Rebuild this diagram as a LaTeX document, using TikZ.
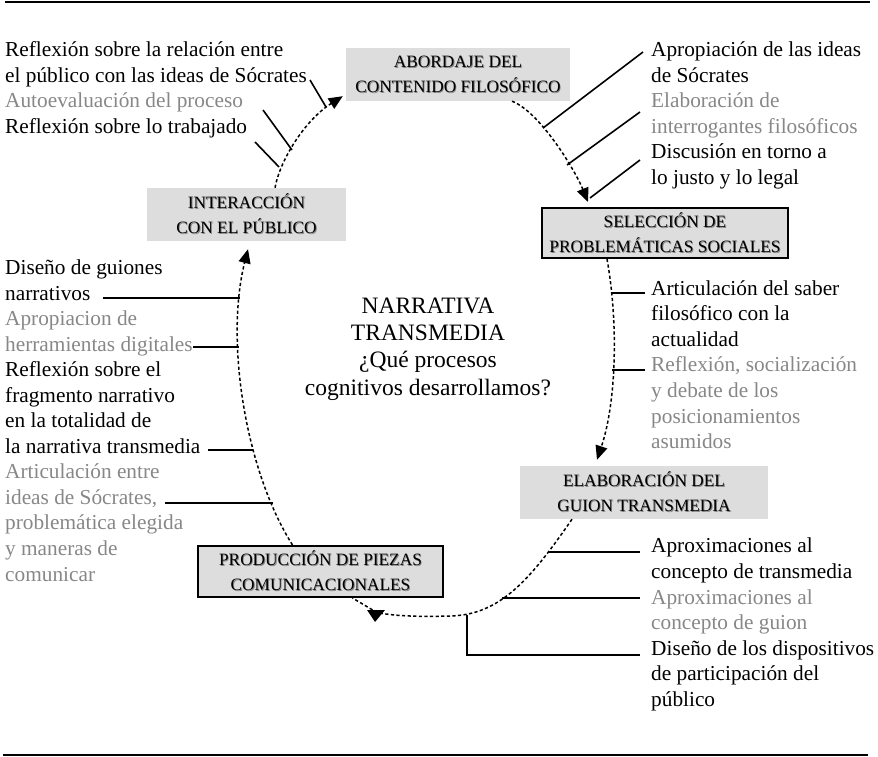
\documentclass[tikz,border=0pt]{standalone}
\usepackage{fontspec}
\setmainfont{Liberation Serif}
\usetikzlibrary{arrows.meta}
\definecolor{txtgray}{RGB}{135,135,135}
\definecolor{boxgray}{RGB}{221,221,221}
\newcommand\shd[1]{\makebox[0pt][l]{\hspace{0.9pt}\raisebox{-0.9pt}{\textcolor{black!50}{#1}}}#1}
\newcommand\gr[1]{\textcolor{txtgray}{#1}}
\begin{document}
\begin{tikzpicture}[x=1pt,y=-1pt,
  stage/.style={fill=boxgray, inner sep=0pt, align=center, font=\fontsize{17.3}{25}\selectfont, text=black},
  framed/.style={stage, draw=black, line width=2pt},
  txt/.style={anchor=north west, inner sep=0pt, align=left, font=\fontsize{21.3}{25.6}\selectfont},
  flow/.style={line width=1.5pt, dash pattern=on 3.2pt off 2.4pt},
  tip/.style={-{Triangle[length=14pt,width=12pt]}},
  lead/.style={line width=1.6pt},
]
\useasboundingbox (0,0) rectangle (878,757);
% rules
\draw[line width=2.5pt] (5,2) -- (870,2);
\draw[line width=2.5pt] (3,755) -- (868,755);

% stages
\node[stage, minimum width=224pt, minimum height=53pt] (abord) at (458,74.5) {\shd{ABORDAJE DEL}\\\shd{CONTENIDO FILOSÓFICO}};
\node[framed, minimum width=246pt, minimum height=50pt] (selec) at (665,233) {\shd{SELECCIÓN DE}\\\shd{PROBLEMÁTICAS SOCIALES}};
\node[stage, minimum width=199pt, minimum height=53pt] (inter) at (246.5,214.5) {\shd{INTERACCIÓN}\\\shd{CON EL PÚBLICO}};
\node[stage, minimum width=248pt, minimum height=53pt] (elab) at (644,492.5) {\shd{ELABORACIÓN DEL}\\\shd{GUION TRANSMEDIA}};
\node[framed, minimum width=245pt, minimum height=51pt] (prod) at (320.5,571.5) {\shd{PRODUCCIÓN DE PIEZAS}\\\shd{COMUNICACIONALES}};

% centre
\node[inner sep=0pt, align=center, font=\fontsize{23.5}{27.3}\selectfont] (centre) at (428,349) {NARRATIVA\\TRANSMEDIA\\¿Qué procesos\\cognitivos desarrollamos?};

% text blocks
\node[txt] (tl) at (5,41.5) {Reflexión sobre la relación entre\\el público con las ideas de Sócrates\\\gr{Autoevaluación del proceso}\\Reflexión sobre lo trabajado};
\node[txt] (tr) at (651,41.5) {Apropiación de las ideas\\de Sócrates\\\gr{Elaboración de}\\\gr{interrogantes filosóficos}\\Discusión en torno a\\lo justo y lo legal};
\node[txt, font=\fontsize{21.3}{25.55}\selectfont] (lm) at (5,259.5) {Diseño de guiones\\narrativos\\\gr{Apropiacion de}\\\gr{herramientas digitales}\\Reflexión sobre el\\fragmento narrativo\\en la totalidad de\\la narrativa transmedia\\\gr{Articulación entre}\\\gr{ideas de Sócrates,}\\\gr{problemática elegida}\\\gr{y maneras de}\\\gr{comunicar}};
\node[txt] (rm) at (651,280) {Articulación del saber\\filosófico con la\\actualidad\\\gr{Reflexión, socialización}\\\gr{y debate de los}\\\gr{posicionamientos}\\\gr{asumidos}};
\node[txt] (br) at (651,538) {Aproximaciones al\\concepto de transmedia\\\gr{Aproximaciones al}\\\gr{concepto de guion}\\Diseño de los dispositivos\\de participación del\\público};

% cycle
\draw[flow, tip] ([xshift=28.5pt]inter.north) .. controls (280,160) and (305,120) .. ([xshift=-3pt,yshift=5pt]abord.south west);
\draw[flow, tip] ([xshift=54pt]abord.south) .. controls (540,112) and (575,170) .. ([xshift=-77pt,yshift=5pt]selec.north);
\draw[flow, tip] ([xshift=-58pt]selec.south) .. controls (618,320) and (617,400) .. ([xshift=-47pt,yshift=6pt]elab.north);
\draw[flow] ([xshift=-72pt]elab.south) .. controls (530,580) and (500,615) .. (450,616) .. controls (420,617) and (390,616) .. (376,612) -- ([xshift=32pt]prod.south);
\fill (367,610) -- (385,610) -- (375,622) -- cycle;
\draw[flow, tip] ([xshift=-28pt]prod.north) .. controls (245,470) and (225,340) .. ([xshift=1.5pt,yshift=-8pt]inter.south);

% leader coordinates
\coordinate (a1) at (310,80);  \coordinate (b1) at (326,107);
\coordinate (a2) at (263,110); \coordinate (b2) at (292,150);
\coordinate (a3) at (255,142); \coordinate (b3) at (279,167);
\coordinate (c1) at (643,52);  \coordinate (d1) at (543,128);
\coordinate (c2) at (640,112); \coordinate (d2) at (567,165);
\coordinate (c3) at (640,160); \coordinate (d3) at (590,198);
\coordinate (e1) at (645,293); \coordinate (f1) at (611,293);
\coordinate (e2) at (645,370); \coordinate (f2) at (612,370);
\coordinate (g1) at (640,552); \coordinate (h1) at (549,552);
\coordinate (g2) at (640,598); \coordinate (h2) at (502,598);
\coordinate (g3) at (640,655); \coordinate (h3) at (467,615);
\coordinate (k1) at (103,298); \coordinate (m1) at (240,298);
\coordinate (k2) at (193,347); \coordinate (m2) at (238.5,347);
\coordinate (k3) at (208,450); \coordinate (m3) at (253,450);
\coordinate (k4) at (165,503); \coordinate (m4) at (273,503);

\draw[lead] (a1) -- (b1);
\draw[lead] (a2) -- (b2);
\draw[lead] (a3) -- (b3);
\draw[lead] (c1) -- (d1);
\draw[lead] (c2) -- (d2);
\draw[lead] (c3) -- (d3);
\draw[lead] (e1) -- (f1);
\draw[lead] (e2) -- (f2);
\draw[lead] (g1) -- (h1);
\draw[lead] (g2) -- (h2);
\draw[lead] (g3) -| (h3);
\draw[lead] (k1) -- (m1);
\draw[lead] (k2) -- (m2);
\draw[lead] (k3) -- (m3);
\draw[lead] (k4) -- (m4);
\end{tikzpicture}
\end{document}
